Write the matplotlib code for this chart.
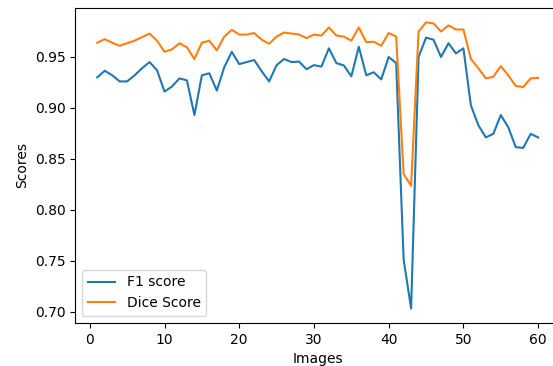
import numpy as np
import matplotlib
matplotlib.use("Agg")
import matplotlib.pyplot as plt

images = np.arange(1, 61)

f1_score = [0.930, 0.9365, 0.932, 0.926, 0.926, 0.932, 0.939, 0.945, 0.937, 0.916,
            0.921, 0.929, 0.927, 0.893, 0.932, 0.934, 0.917, 0.940, 0.955, 0.943,
            0.945, 0.947, 0.936, 0.926, 0.942, 0.948, 0.945, 0.9455, 0.938, 0.942,
            0.9405, 0.9585, 0.944, 0.9417, 0.931, 0.960, 0.932, 0.935, 0.928, 0.950,
            0.944, 0.751, 0.703, 0.950, 0.969, 0.967, 0.950, 0.9635, 0.9535, 0.9585,
            0.9025, 0.883, 0.871, 0.8745, 0.893, 0.881, 0.8615, 0.8607, 0.8745, 0.871]

dice_score = [0.964, 0.9675, 0.964, 0.961, 0.9635, 0.966, 0.9695, 0.973, 0.966, 0.955,
              0.9575, 0.9635, 0.9595, 0.948, 0.964, 0.966, 0.9565, 0.970, 0.9767, 0.972,
              0.972, 0.9735, 0.967, 0.963, 0.970, 0.974, 0.973, 0.972, 0.9685, 0.972,
              0.971, 0.979, 0.971, 0.970, 0.966, 0.979, 0.9645, 0.965, 0.961, 0.9735,
              0.970, 0.835, 0.8235, 0.975, 0.984, 0.983, 0.975, 0.981, 0.977, 0.977,
              0.948, 0.939, 0.929, 0.9305, 0.941, 0.932, 0.9215, 0.9205, 0.929, 0.9295]

fig = plt.figure(figsize=(5.53, 3.66), dpi=100)
# right spine runs past the picture edge in the reference
ax = fig.add_axes([0.136, 0.118, 0.877, 0.860])
ax.plot(images, f1_score, label="F1 score")
ax.plot(images, dice_score, label="Dice Score")
ax.set_xlabel("Images")
ax.set_ylabel("Scores")
ax.set_xticks([0, 10, 20, 30, 40, 50, 60])
ax.set_yticks([0.70, 0.75, 0.80, 0.85, 0.90, 0.95])
ax.legend(loc="lower left")
fig.savefig("out.png", dpi=100)
